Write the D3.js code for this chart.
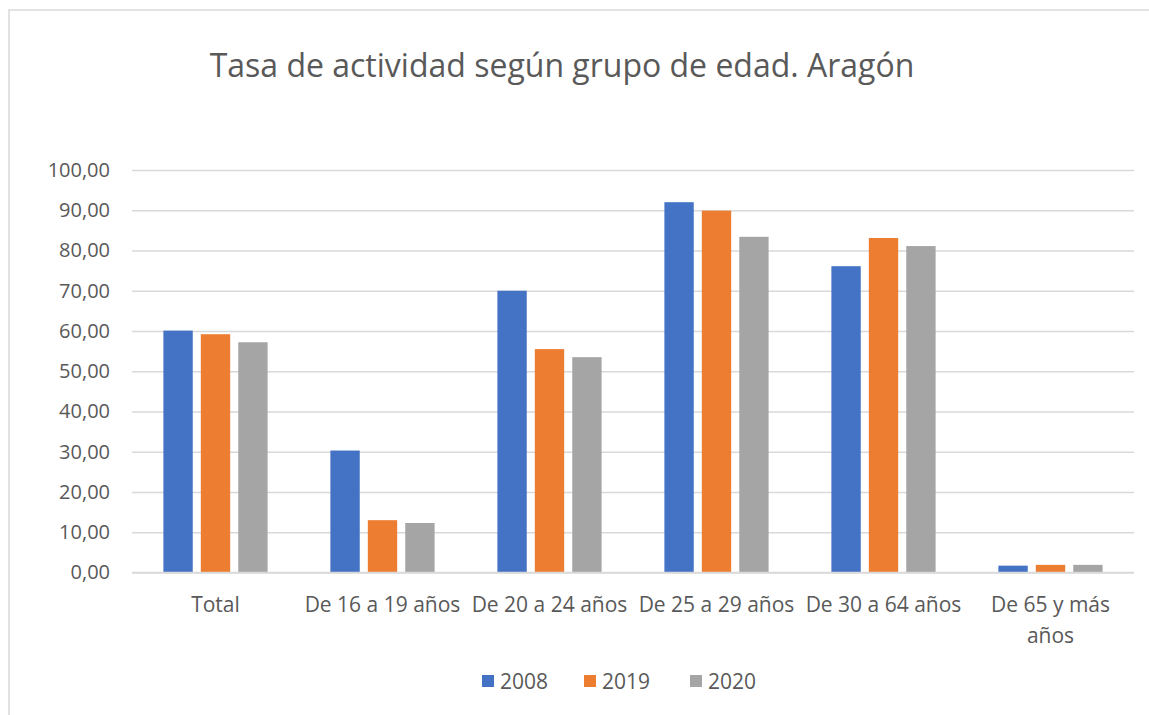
<!DOCTYPE html>
<html>
<head>
<meta charset="utf-8">
<script src="https://cdn.jsdelivr.net/npm/d3@7"></script>
<style>
  html, body { margin: 0; padding: 0; background: #fff; }
  svg { display: block; }
  text { font-family: "Open Sans", "Noto Sans", sans-serif; fill: #595959; }
</style>
</head>
<body>
<svg id="chart" width="1149" height="715"></svg>
<script>
const title = "Tasa de actividad según grupo de edad. Aragón";
const categories = ["Total", "De 16 a 19 años", "De 20 a 24 años", "De 25 a 29 años", "De 30 a 64 años", "De 65 y más años"];
const seriesNames = ["2008", "2019", "2020"];
const values2008 = [60.1, 30.3, 70.0, 92.0, 76.1, 1.7];
const values2019 = [59.2, 13.0, 55.5, 89.9, 83.1, 1.9];
const values2020 = [57.2, 12.3, 53.5, 83.4, 81.1, 1.9];
const yTicks = [0, 10, 20, 30, 40, 50, 60, 70, 80, 90, 100];
const colors = ["#4472C4", "#ED7D31", "#A5A5A5"];

const seriesValues = [values2008, values2019, values2020];
const svg = d3.select("#chart");

// chart border
svg.append("rect").attr("x", 9).attr("y", 10).attr("width", 1160).attr("height", 730)
  .attr("fill", "none").attr("stroke", "#d9d9d9").attr("stroke-width", 1.5);

// title
svg.append("text").attr("x", 562).attr("y", 77).attr("text-anchor", "middle")
  .attr("font-size", 32).text(title);

const plotLeft = 132, plotRight = 1134, plotTop = 170, plotBottom = 572.5;

const y = d3.scaleLinear().domain([0, 100]).range([plotBottom, plotTop]);
const x0 = d3.scaleBand().domain(categories).range([plotLeft, plotRight])
  .paddingInner(0.376).paddingOuter(0.188);
const x1 = d3.scaleBand().domain(seriesNames).range([0, x0.bandwidth()]).paddingInner(0.216);

// gridlines
const fmt = v => d3.format(".2f")(v).replace(".", ",");
const yAxis = d3.axisLeft(y).tickValues(yTicks).tickSize(-(plotRight - plotLeft)).tickPadding(22).tickFormat(fmt);
const gy = svg.append("g").attr("transform", `translate(${plotLeft},0)`).call(yAxis);
gy.select(".domain").remove();
gy.selectAll(".tick line").attr("stroke", "#d9d9d9").attr("stroke-width", 1.5);
gy.selectAll(".tick text").attr("font-size", 20).attr("fill", "#595959")
  .attr("font-family", '"Open Sans", sans-serif');

// bars
const groups = svg.append("g").selectAll("g").data(categories).join("g")
  .attr("transform", d => `translate(${x0(d)},0)`);
groups.selectAll("rect").data((d, i) => seriesNames.map((s, j) => ({ s, j, v: seriesValues[j][i] })))
  .join("rect")
  .attr("x", d => x1(d.s))
  .attr("y", d => y(d.v))
  .attr("width", x1.bandwidth())
  .attr("height", d => y(0) - y(d.v))
  .attr("fill", d => colors[d.j]);

// baseline
svg.append("line").attr("x1", plotLeft).attr("x2", plotRight).attr("y1", y(0)).attr("y2", y(0))
  .attr("stroke", "#d9d9d9").attr("stroke-width", 1.5);

// x axis labels
const xAxis = d3.axisBottom(x0).tickSize(0).tickPadding(25);
const gx = svg.append("g").attr("transform", `translate(0,${plotBottom})`).call(xAxis);
gx.select(".domain").remove();
gx.selectAll(".tick text").attr("font-size", 21).attr("fill", "#595959")
  .attr("font-family", '"Open Sans", sans-serif')
  .each(function(d) {
    if (d === "De 65 y más años") {
      const t = d3.select(this);
      t.text(null);
      t.append("tspan").attr("x", 0).attr("dy", "0.71em").text("De 65 y más");
      t.append("tspan").attr("x", 0).attr("dy", "1.45em").text("años");
      t.attr("dy", null);
    }
  });

// legend
const legendX = [482, 584, 690];
const lg = svg.append("g").selectAll("g").data(seriesNames).join("g")
  .attr("transform", (d, i) => `translate(${legendX[i]},675)`);
lg.append("rect").attr("width", 12).attr("height", 12).attr("fill", (d, i) => colors[i]);
lg.append("text").attr("x", 18).attr("y", 14).attr("font-size", 21).text(d => d);
</script>
</body>
</html>
